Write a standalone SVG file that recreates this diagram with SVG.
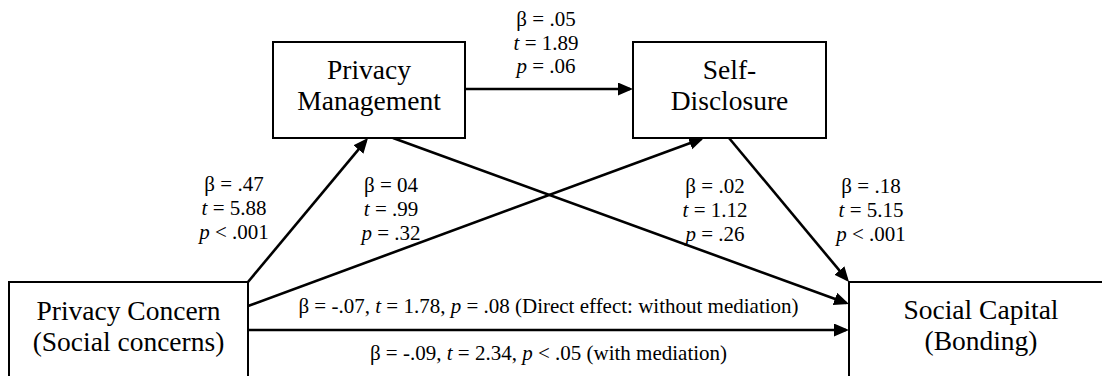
<svg xmlns="http://www.w3.org/2000/svg" width="1102" height="376" viewBox="0 0 1102 376" font-family="'Liberation Serif', 'DejaVu Serif', serif">
  <defs>
    <marker id="head" markerUnits="userSpaceOnUse" markerWidth="16" markerHeight="14" refX="12" refY="6.5" orient="auto">
      <path d="M0,0 L15,6.5 L0,13 Z" fill="#000"/>
    </marker>
    <style>
      .box { fill: #fff; stroke: #000; stroke-width: 2; }
      .node { font-family: 'Liberation Serif', 'DejaVu Serif', serif; font-size: 27.5px; fill: #000; text-anchor: middle; }
      .stat { font-family: 'Liberation Serif', 'DejaVu Serif', serif; font-size: 21px; fill: #000; text-anchor: middle; }
      .it { font-style: italic; }
      .edge { stroke: #000; stroke-width: 2.6; fill: none; marker-end: url(#head); }
    </style>
  </defs>
  <rect width="1102" height="376" fill="#fff"/>

  <!-- path connectors -->
  <g id="connectors">
    <line class="edge" x1="465" y1="89" x2="630" y2="89"/>
    <line class="edge" x1="248" y1="282" x2="366.1" y2="140.3"/>
    <line class="edge" x1="248" y1="306" x2="701.2" y2="139"/>
    <line class="edge" x1="393" y1="138" x2="846.2" y2="303"/>
    <line class="edge" x1="729" y1="138" x2="847.1" y2="279.7"/>
    <line class="edge" x1="248" y1="330" x2="846" y2="330"/>
  </g>

  <!-- coefficients -->
  <g id="labels">
    <text class="stat" x="546" y="26">β = .05</text>
    <text class="stat" x="546" y="49.7"><tspan class="it">t</tspan> = 1.89</text>
    <text class="stat" x="546" y="73.4"><tspan class="it">p</tspan> = .06</text>

    <text class="stat" x="234" y="191">β = .47</text>
    <text class="stat" x="234" y="215"><tspan class="it">t</tspan> = 5.88</text>
    <text class="stat" x="234" y="239"><tspan class="it">p</tspan> &lt; .001</text>

    <text class="stat" x="391" y="192">β = 04</text>
    <text class="stat" x="391" y="216"><tspan class="it">t</tspan> = .99</text>
    <text class="stat" x="391" y="240"><tspan class="it">p</tspan> = .32</text>

    <text class="stat" x="715" y="193">β = .02</text>
    <text class="stat" x="715" y="217"><tspan class="it">t</tspan> = 1.12</text>
    <text class="stat" x="715" y="241"><tspan class="it">p</tspan> = .26</text>

    <text class="stat" x="871" y="193">β = .18</text>
    <text class="stat" x="871" y="217"><tspan class="it">t</tspan> = 5.15</text>
    <text class="stat" x="871" y="241"><tspan class="it">p</tspan> &lt; .001</text>

    <text class="stat" x="548.5" y="313">β = -.07, <tspan class="it">t</tspan> = 1.78, <tspan class="it">p</tspan> = .08 (Direct effect: without mediation)</text>
    <text class="stat" x="548.5" y="360">β = -.09, <tspan class="it">t</tspan> = 2.34, <tspan class="it">p</tspan> &lt; .05 (with mediation)</text>
  </g>

  <g id="privacy-management">
    <rect class="box" x="273" y="42" width="192" height="96"/>
    <text class="node" x="369" y="79">Privacy</text>
    <text class="node" x="369" y="110">Management</text>
  </g>

  <g id="self-disclosure">
    <rect class="box" x="633" y="42" width="193" height="96"/>
    <text class="node" x="729.5" y="79">Self-</text>
    <text class="node" x="729.5" y="110">Disclosure</text>
  </g>

  <g id="privacy-concern">
    <rect class="box" x="9" y="282" width="239" height="150"/>
    <text class="node" x="128.5" y="320">Privacy Concern</text>
    <text class="node" x="128.5" y="351">(Social concerns)</text>
  </g>

  <g id="social-capital">
    <rect class="box" x="849" y="282" width="300" height="150"/>
    <text class="node" x="981" y="319">Social Capital</text>
    <text class="node" x="981" y="350">(Bonding)</text>
  </g>
</svg>
